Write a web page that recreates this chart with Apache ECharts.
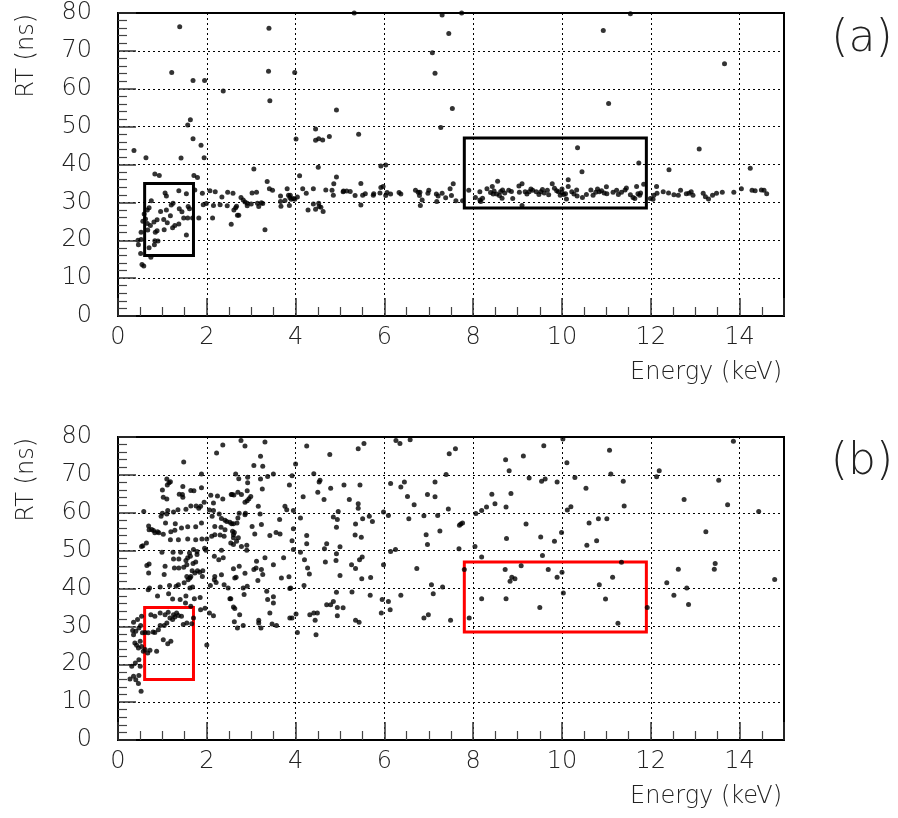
<!DOCTYPE html>
<html>
<head>
<meta charset="utf-8">
<script src="https://cdn.jsdelivr.net/npm/echarts@6/dist/echarts.min.js"></script>
<style>html,body{margin:0;padding:0;background:#fff}#c{width:898px;height:818px}</style>
</head>
<body>
<div id="c"></div>
<script>
// Panel (a): [Energy keV, RT ns]
const pointsA = [
[1.39,76.4],[3.40,76],[1.21,64.3],[3.39,64.6],[3.98,64.3],[1.69,62.2],[1.95,62.2],[2.37,59.4],[3.42,56.8],[4.92,54.4],[1.63,51.8],[1.57,50.4],[4.45,49.4],[4.01,46.7],[4.45,46.4],[4.52,46.8],[4.61,46.5],[4.76,47.4],[1.69,46.8],[1.87,45.1],[0.36,43.7],[0.63,41.8],[1.42,41.7],[1.94,41.8],[3.06,38.8],[4.51,39.3],[0.83,37.5],[0.93,37.1],[1.71,37.1],[1.79,36.6],[4.09,37],[4.92,36.7],[3.36,35.5],[3.41,33.6],[3.48,33.2],[1.06,32.5],[1.09,31.7],[1.37,33.1],[1.54,32.3],[1.73,33.3],[1.90,32.4],[2.07,33.1],[2.19,32.8],[2.34,31.4],[2.47,32.7],[2.59,32.4],[3.02,32.5],[3.12,32.7],[3.81,33.6],[4.16,33.6],[4.24,32.4],[4.40,33.6],[4.68,33.3],[4.82,33.2],[4.85,31.9],[4.86,34.9],[5.07,32.8],
[0.75,30.4],[0.70,28.6],[0.66,28.0],[0.59,26.9],[0.56,25.0],[0.62,25.6],[0.66,24.4],[0.88,25.4],[0.81,24.8],[0.67,22.7],[0.73,23.9],[0.52,22.1],[0.52,20.2],[0.45,20.0],[0.46,18.8],[0.51,16.5],[0.54,13.6],[0.58,13.2],[0.70,18.0],[0.74,15.5],[0.82,18.8],[0.83,19.9],[0.90,19.8],[0.84,22.1],[0.88,22.5],[0.96,27.6],[1.03,25.5],[1.09,28.0],[1.11,24.6],[1.04,22.8],[1.18,26.5],[1.20,29.3],[1.24,29.8],[1.23,23.3],[1.28,23.9],[1.37,24.3],[1.38,28.3],[1.44,27.5],[1.48,25.9],[1.54,21.4],[1.58,28.9],[1.61,28.3],[1.57,25.9],[1.68,25.9],[1.82,25.9],[1.92,29.4],[1.99,29.7],[2.13,25.9],[2.15,29.2],[2.30,29.4],[2.46,29.1],[2.55,24.2],[2.61,28.0],[2.65,28.6],[2.67,29.0],[2.72,26.6],[2.69,26.6],[2.77,31.3],[2.82,30.6],[2.86,30.1],[2.91,29.8],[3.0,29.6],[2.91,29.1],[3.14,29.8],[3.17,28.9],[3.23,29.9],[3.26,29.7],[3.31,22.8],[3.66,31.7],[3.66,30.2],[3.67,29.0],[3.76,30.5],[3.84,31.9],[3.87,31.3],[3.86,29.2],[3.88,31.9],[3.90,30.8],[3.95,31.0],[3.98,30.8],[4.04,31.4],[4.28,28.0],[4.40,29.6],[4.45,28.2],[4.52,29.8],[4.53,28.9],[4.57,28.7],[4.62,27.6],
[5.32,80],[7.30,79.5],[7.74,80],[7.45,74.6],[7.08,69.5],[7.14,64.1],[7.53,54.8],[7.27,49.8],[5.42,48.0],[5.92,39.6],[6.03,39.9],[5.47,35.0],[5.08,33.0],[5.15,33.0],[5.23,32.9],[5.34,31.8],[5.47,29.3],[5.51,31.9],[5.57,32.3],[5.75,31.9],[5.76,32.3],[5.90,32.5],[5.92,33.9],[5.97,34.2],[6.03,31.8],[6.06,32.6],[6.14,32.2],[6.33,32.6],[6.37,32.2],[6.70,33.2],[6.76,32.7],[6.79,31.8],[6.80,32.7],[6.85,30.6],[6.81,29.2],[6.98,32.4],[7.0,33.2],[7.17,32.2],[7.18,30.2],[7.21,31.7],[7.30,32.4],[7.38,31.2],[7.48,33.6],[7.51,31.8],[7.55,34.9],[7.61,30.4],[7.76,30.4],[7.90,33.2],[8.05,31.3],[8.15,30.6],[8.17,30.2],[8.15,32.8],[8.21,31.1],[8.31,33.6],[8.39,32.6],[8.45,32.2],[8.43,34.2],[8.55,35.6],[8.53,32.2],[8.59,31.8],[8.65,31.1],[8.66,33.3],[8.71,32.5],[8.86,32.9],[8.89,31.0],[9.03,34.3],[9.04,32.7],[9.10,34.9],[9.10,29.2],[9.17,32.8],[9.26,32.8],[9.34,33.2],[9.42,32.8],[9.52,32.8],[9.60,32.5],[9.67,33.2],[9.78,34.9],[9.83,33.7],[9.92,32.8],[10.0,33.5],[9.96,31.9],[10.08,32.3],
[8.47,33.0],[8.62,32.9],[8.80,33.2],[9.21,32.2],[9.30,33.5],[9.48,32.1],[9.56,33.4],[9.70,32.0],[9.88,33.1],
[11.54,79.8],[10.93,75.4],[13.66,66.6],[11.05,56.1],[10.35,44.4],[13.09,44.1],[11.73,40.4],[10.45,38.1],[12.41,38.6],[14.24,39.0],[10.14,36.0],
[10.0,32.6],[10.04,32.1],[10.10,30.9],[10.14,34.2],[10.22,32.8],[10.27,32.2],[10.33,33.3],[10.34,31.7],[10.46,31.3],[10.55,32.1],[10.65,33.3],[10.70,31.9],[10.76,32.7],[10.80,33.5],[10.84,32.8],[10.89,33.1],[10.95,32.5],[11.0,34.1],[11.01,32.3],[11.15,32.7],[11.23,33.2],[11.27,32.1],[11.34,32.7],[11.42,33.3],[11.45,33.8],[11.54,32.0],[11.60,31.3],[11.64,31.0],[11.68,34.2],[11.71,32.3],[11.75,31.9],[11.77,32.5],[11.84,34.8],[11.99,31.0],[12.05,30.8],[12.07,31.9],[12.13,34.2],[12.14,32.4],[12.28,32.8],[12.40,32.5],[12.52,32.0],[12.62,31.9],[12.67,33.2],[12.80,32.3],[12.86,32.4],[12.91,32.8],[12.95,31.9],[13.18,32.4],[13.23,31.5],[13.30,30.9],[13.39,31.9],[13.48,32.4],[13.61,32.7],[13.87,32.7],[14.04,33.6],[14.28,33.2],[14.35,33.1],[14.49,33.3],[14.55,33.2],[14.61,32.3]
];

// Panel (b): [Energy keV, RT ns]
const pointsB = [
[2.36,77.9],[2.22,75.8],[1.48,73.4],[1.88,70.2],[2.65,70.2],[1.10,68.9],[1.15,67.9],[1.11,67.3],[1.18,68.2],[1.0,66.0],[1.46,66.9],[1.38,64.9],[1.45,64.8],[1.46,64.1],[1.64,65.9],[1.71,65.8],[1.88,66.6],[1.02,64.1],[1.10,63.6],[2.09,64.6],[2.24,64.4],[2.36,63.6],[2.15,62.6],[2.55,64.8],[2.61,64.7],[1.64,61.8],[1.76,61.8],[1.82,61.2],[1.86,61.7],[1.94,62.8],[0.58,60.3],[0.97,59.1],[1.0,59.9],[1.10,59.7],[1.12,60.6],[1.25,60.2],[1.35,60.8],[1.53,60.9],[2.06,60.7],[2.15,60.6],[2.12,59.1],[2.28,59.7],[2.33,58.5],[2.41,58.0],[2.45,57.7],[2.52,57.5],[2.56,57.1],[0.69,56.5],[0.76,55.6],[0.70,55.5],[0.80,55.3],[0.89,55.0],[0.92,54.7],[0.83,54.7],[1.07,57.3],[1.29,57.1],[1.28,55.4],[1.43,56.0],[1.57,56.3],[1.75,56.3],[1.88,57.3],[2.18,56.4],[2.32,56.2],[2.18,54.2],[2.30,54.1],[2.41,55.5],[2.39,53.8],[2.58,55.1],[2.60,54.2],[2.54,52.0],[2.60,51.6],[1.02,54.3],[1.18,52.9],[1.19,55.0],[1.36,52.9],[1.57,53.1],[1.75,52.9],[1.89,53.1],[2.0,53.1],[2.11,53.8],[0.56,51.3],[0.64,52.0],[0.53,51.1],[0.99,49.6],[1.24,49.6],[1.41,49.6],[1.61,49.4],[1.70,50.3],[1.78,49.8],[1.95,50.6],[1.98,50.1],[2.17,48.5],[2.33,50.1],[2.37,48.1],[2.27,47.6],[0.65,46.1],[0.70,46.5],[1.06,45.9],[1.25,47.8],[1.37,47.8],[1.27,45.4],[1.37,45.4],[1.48,45.6],[1.53,47.4],[1.57,48.1],[1.63,48.5],[1.55,46.3],[1.69,46.6],[1.75,47.0],[1.78,49.0],[0.69,44.1],[1.04,43.7],[1.91,44.7],[1.90,43.2],[2.60,45.2],[2.18,43.2],[2.33,43.6],[2.17,42.3],[1.55,43.2],[1.64,43.2],[1.67,44.7],[1.73,44.1],[1.79,44.7],[1.84,44.3],[1.58,42.3],[1.62,42.8],[1.49,41.5],[1.36,41.0],[1.31,40.6],[1.16,40.8],[0.95,40.4],[0.71,40.1],[0.68,39.7],[1.62,40.1],[1.68,40.4],[2.39,41.0],[2.48,40.1],[2.21,41.6],[2.08,40.8],[0.89,38.0],[1.14,38.6],[1.53,38.0],[1.85,37.6],[1.72,37.3],[2.54,37.3],[1.23,37.2],[1.40,37.1],[1.52,36.2],[1.64,35.3],[1.86,34.4],[1.96,34.8],[2.06,33.5],[2.15,32.8],[0.53,32.7],[0.44,31.8],[0.35,31.1],[0.33,28.9],[0.40,28.7],[0.47,29.6],[0.51,30.2],[0.55,28.3],[0.61,28.4],[0.68,28.3],[0.79,28.5],[0.83,28.4],[0.91,29.1],[0.95,30.2],[1.04,30.2],[1.10,30.9],[1.17,32.2],[1.23,31.8],[1.28,32.5],[1.36,32.9],[1.43,32.7],[1.47,30.5],[1.55,30.9],[1.66,30.7],[1.70,32.2],[0.74,33.1],[0.83,32.7],[0.95,33.5],[1.06,33.1],[1.13,33.7],[1.25,33.1],[1.32,33.5],[0.35,27.8],[0.38,25.6],[0.42,25.0],[0.46,24.3],[0.50,26.1],[0.53,24.7],[0.57,23.4],[0.61,23.9],[0.67,23.0],[0.72,23.7],[0.87,23.4],[1.02,26.5],[1.12,25.4],[1.19,26.1],[2.0,25.1],[0.31,19.5],[0.27,16.1],[0.35,16.8],[0.40,15.9],[0.47,17.0],[0.46,14.9],[0.52,12.9],[0.39,20.3],[0.50,19.5],[0.47,21.2],
[2.77,79.1],[2.86,77.6],[3.31,78.7],[3.21,74.9],[3.26,72.3],[3.06,72.5],[4.0,72.9],[4.25,77.6],[4.77,75.4],[2.72,69.0],[2.92,69.4],[2.92,67.9],[3.21,68.9],[3.37,69.6],[3.50,70.2],[3.86,67.3],[3.92,69.8],[4.41,70.3],[4.53,68.1],[4.55,68.6],[4.50,65.4],[4.64,63.5],[4.79,66.5],[5.09,67.3],[2.57,64.8],[2.70,65.4],[2.78,64.8],[2.86,62.8],[2.91,63.2],[2.95,63.7],[2.99,64.3],[2.91,65.8],[3.25,66.3],[3.16,61.7],[4.17,64.2],[2.73,59.9],[2.87,59.9],[2.86,59.5],[3.20,59.7],[2.60,57.1],[2.68,57.3],[2.70,58.6],[3.02,56.4],[3.23,56.9],[2.62,54.8],[2.71,53.4],[2.60,53.4],[2.67,52.5],[2.78,51.1],[2.90,51.4],[2.90,50.1],[3.08,54.4],[3.42,54.0],[3.56,54.8],[3.65,54.4],[3.64,58.2],[3.76,61.7],[3.80,60.8],[3.95,60.6],[3.95,55.8],[3.92,52.6],[3.95,50.3],[4.11,58.6],[4.25,54.0],[4.25,51.8],[4.11,49.6],[4.20,47.6],[4.27,45.4],[4.31,43.8],[4.19,40.8],[4.85,58.9],[4.94,58.2],[4.92,56.2],[4.96,60.3],[4.65,50.5],[4.70,51.8],[4.67,47.0],[4.91,47.4],[4.92,49.2],[5.0,51.0],[5.0,43.4],[2.73,45.9],[2.66,43.0],[2.63,42.8],[2.86,44.0],[3.12,47.2],[3.31,48.1],[3.50,46.3],[3.06,45.0],[3.11,45.4],[3.23,45.0],[3.26,43.7],[3.15,42.1],[3.73,48.1],[3.68,42.8],[3.85,43.1],[3.89,40.1],[3.87,40.0],[2.52,37.3],[2.60,35.1],[2.63,34.7],[2.82,40.1],[2.91,40.6],[2.84,38.4],[2.74,33.1],[2.62,31.2],[2.69,29.6],[2.82,30.2],[3.35,39.3],[3.37,37.1],[3.50,37.8],[3.50,36.2],[3.42,33.5],[3.17,31.6],[3.17,30.9],[3.22,29.6],[3.47,30.6],[3.57,30.2],[3.87,32.2],[3.92,32.2],[4.01,33.3],[4.04,28.4],[4.32,33.1],[4.41,33.5],[4.49,33.5],[4.44,31.6],[4.46,27.8],[4.70,35.7],[4.79,35.7],[4.85,36.6],[4.92,39.0],[4.94,35.0],[4.94,32.8],[5.07,34.9],
[5.41,76.9],[5.54,78.3],[6.26,79.1],[6.35,78.3],[6.58,79.3],[7.46,75.6],[7.60,76.9],[7.39,70.1],[5.45,67.3],[6.14,67.7],[6.37,66.8],[6.45,68.1],[7.14,68.1],[6.52,64.3],[6.67,62.1],[6.97,64.8],[7.14,64.2],[7.44,61.0],[5.21,63.5],[5.41,62.4],[5.41,61.2],[5.51,58.4],[5.66,59.1],[5.73,57.7],[5.35,57.0],[5.98,60.2],[6.09,59.3],[6.55,58.4],[6.89,59.2],[7.20,59.3],[7.25,55.2],[6.94,54.2],[6.97,51.6],[5.34,54.1],[5.48,53.5],[7.69,56.7],[7.72,57.0],[7.76,57.3],[7.68,50.5],[6.14,49.8],[6.25,50.3],[5.98,46.3],[6.73,45.3],[5.26,46.3],[5.35,45.3],[5.44,47.6],[5.50,48.3],[5.49,42.6],[5.69,42.9],[5.27,39.1],[5.68,38.2],[5.95,37.1],[6.09,36.6],[6.13,34.4],[5.93,33.5],[6.37,38.2],[7.06,41.0],[7.10,38.6],[7.31,40.4],[6.89,32.2],[6.99,33.1],[7.49,31.6],[7.91,32.2],[5.35,31.6],[5.43,31.1],[7.80,45.0],
[8.06,59.8],[8.19,60.6],[8.30,61.5],[8.49,62.4],[8.74,61.5],[8.85,65.1],[8.42,64.9],[8.73,74.0],[8.81,71.1],[9.13,75.0],[9.26,69.2],[9.54,68.3],[9.62,68.9],[9.89,68.1],[9.59,77.7],[10.02,79.5],[9.19,57.0],[8.75,53.2],[9.52,53.6],[9.83,52.5],[9.99,54.8],[8.04,51.1],[8.19,48.3],[9.56,48.7],[8.72,45.0],[9.08,46.0],[8.87,43.0],[8.94,42.6],[8.83,41.9],[9.69,45.0],[9.89,43.0],[10.0,44.3],[10.03,38.8],[8.19,37.3],[8.74,37.3],[9.50,35.0],
[11.07,76.5],[10.11,73.2],[11.10,70.2],[10.29,69.3],[11.38,68.3],[10.54,66.5],[11.40,61.8],[10.12,60.7],[10.20,61.6],[10.61,57.3],[10.82,58.4],[11.01,58.4],[10.78,52.6],[10.56,51.4],[11.34,46.9],[11.14,43.0],[10.84,41.0],[10.98,37.2],[11.26,30.8],[11.92,35.0],[12.13,69.5],[12.19,71.1],[12.75,63.5],[13.53,68.6],[13.73,62.1],[13.86,78.9],[13.24,55.0],[14.43,60.3],[12.36,41.5],[12.62,45.1],[12.81,40.1],[12.52,38.2],[12.85,35.8],[13.43,45.1],[13.45,46.6],[14.79,42.4]
];

// Selection boxes [[xmin, ymin], [xmax, ymax]]
const boxLow = [[0.6, 16], [1.7, 35]];
const boxHigh = [[7.8, 28.5], [11.9, 47]];

const xName = 'Energy (keV)';
const yName = 'RT (ns)';
const panelLabels = ['(a)', '(b)'];

const FONT = '"DejaVu Sans", sans-serif';
const FW = 200;

function xAx(g) {
  return {
    type: 'value', gridIndex: g, min: 0, max: 15, interval: 2,
    axisLine: { show: true, lineStyle: { color: '#000', width: 2 } },
    axisTick: { show: true, inside: true, length: 18, lineStyle: { color: '#333', width: 1.5 } },
    minorTick: { show: true, splitNumber: 4, length: 9, lineStyle: { color: '#444', width: 1.2 } },
    splitLine: { show: true, lineStyle: { color: '#000', width: 1, type: [2, 3] } },
    axisLabel: { fontSize: 24, fontFamily: FONT, fontWeight: FW, color: '#222', margin: 10, showMaxLabel: false }
  };
}
function yAx(g) {
  return {
    type: 'value', gridIndex: g, min: 0, max: 80, interval: 10,
    axisLine: { show: true, lineStyle: { color: '#000', width: 2 } },
    axisTick: { show: true, inside: true, length: 18, lineStyle: { color: '#333', width: 1.5 } },
    minorTick: { show: true, splitNumber: 5, length: 9, lineStyle: { color: '#444', width: 1.2 } },
    splitLine: { show: true, lineStyle: { color: '#000', width: 1, type: [2, 3] } },
    axisLabel: { fontSize: 24, fontFamily: FONT, fontWeight: FW, color: '#222', margin: 26 }
  };
}
function boxes(color) {
  return {
    silent: true,
    label: { show: false },
    itemStyle: { color: 'rgba(0,0,0,0)', borderColor: color, borderWidth: 3 },
    data: [
      [{ coord: boxLow[0] }, { coord: boxLow[1] }],
      [{ coord: boxHigh[0] }, { coord: boxHigh[1] }]
    ]
  };
}
function txt(text, x, y, size, align, vAlign, rot) {
  return {
    type: 'text', x: x, y: y, rotation: rot || 0, silent: true,
    style: { text: text, fontSize: size, fontFamily: FONT, fontWeight: FW, fill: '#222',
             align: align, verticalAlign: vAlign, textAlign: align, textVerticalAlign: vAlign }
  };
}

const chart = echarts.init(document.getElementById('c'), null, { renderer: 'canvas' });
chart.setOption({
  animation: false,
  backgroundColor: '#fff',
  grid: [
    { left: 118, top: 13, width: 666, height: 303, show: true, borderColor: '#000', borderWidth: 2, backgroundColor: 'transparent' },
    { left: 118, top: 437, width: 666, height: 303, show: true, borderColor: '#000', borderWidth: 2, backgroundColor: 'transparent' }
  ],
  xAxis: [xAx(0), xAx(1)],
  yAxis: [yAx(0), yAx(1)],
  series: [
    { type: 'scatter', xAxisIndex: 0, yAxisIndex: 0, data: pointsA, symbolSize: 5,
      itemStyle: { color: '#000' }, markArea: boxes('#000') },
    { type: 'scatter', xAxisIndex: 1, yAxisIndex: 1, data: pointsB, symbolSize: 5,
      itemStyle: { color: '#000' }, markArea: boxes('#ff0000') }
  ],
  graphic: [
    txt(xName, 782, 373, 24, 'right', 'middle'),
    txt(xName, 782, 797, 24, 'right', 'middle'),
    txt(yName, 27, 14, 24, 'right', 'middle', Math.PI / 2),
    txt(yName, 27, 438, 24, 'right', 'middle', Math.PI / 2),
    txt(panelLabels[0], 862, 40, 44, 'center', 'middle'),
    txt(panelLabels[1], 862, 463, 44, 'center', 'middle')
  ]
});
</script>
</body>
</html>
